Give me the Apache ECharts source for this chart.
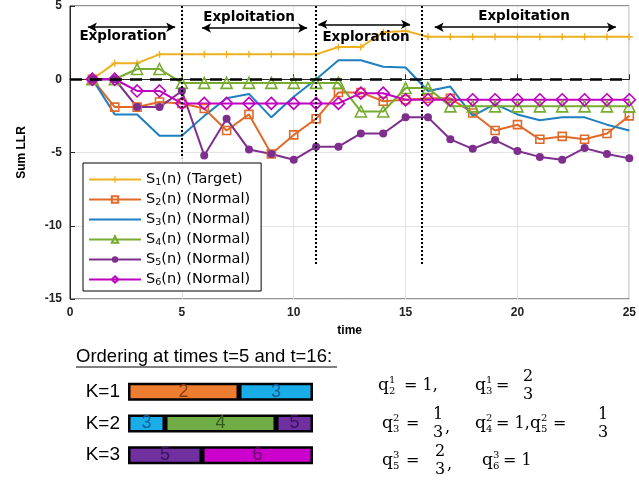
<!DOCTYPE html>
<html>
<head>
<meta charset="utf-8">
<script src="https://cdn.jsdelivr.net/npm/echarts@6/dist/echarts.min.js"></script>
<style>
  html, body { margin: 0; padding: 0; background: #fff; }
  #chart { width: 639px; height: 481px; }
</style>
</head>
<body>
<div id="chart"></div>
<script>
// values
var time = [1,2,3,4,5,6,7,8,9,10,11,12,13,14,15,16,17,18,19,20,21,22,23,24,25]
var s1 = [0,1.1,1.1,1.7,1.7,1.7,1.7,1.7,1.7,1.7,1.7,2.2,2.2,3.2,3.3,2.9,2.9,2.9,2.9,2.9,2.9,2.9,2.9,2.9,2.9]
var s2 = [0,-1.9,-1.9,-1.55,-1.65,-2.0,-3.5,-2.4,-5.1,-3.8,-2.7,-0.9,-0.9,-1.5,-1.4,-1.3,-1.3,-2.3,-3.5,-3.1,-4.1,-3.9,-4.1,-3.7,-2.5]
var s3 = [0,-2.4,-2.4,-3.85,-3.85,-2.5,-1.3,-1.0,-2.6,-1.2,0,1.3,1.3,0.85,0.8,-0.8,-0.5,-2.5,-1.7,-2.4,-2.8,-2.6,-2.6,-3.1,-3.5]
var s4 = [0,0,0.7,0.7,-0.25,-0.25,-0.25,-0.25,-0.25,-0.25,-0.25,-0.25,-2.2,-2.2,-0.6,-0.6,-1.85,-1.85,-1.85,-1.85,-1.85,-1.85,-1.85,-1.85,-1.85]
var s5 = [0,0,-1.9,-1.9,-0.8,-5.2,-2.7,-4.8,-5.1,-5.5,-4.6,-4.6,-3.7,-3.7,-2.6,-2.6,-4.1,-4.75,-4.15,-4.9,-5.3,-5.5,-4.7,-5.1,-5.4]
var s6 = [0,0,-0.8,-0.8,-1.65,-1.65,-1.65,-1.65,-1.65,-1.65,-1.65,-1.65,-0.95,-0.95,-1.4,-1.4,-1.4,-1.4,-1.4,-1.4,-1.4,-1.4,-1.4,-1.4,-1.4]
var names = ['S1(n) (Target)','S2(n) (Normal)','S3(n) (Normal)','S4(n) (Normal)','S5(n) (Normal)','S6(n) (Normal)']
var xTicks = [0,5,10,15,20,25]
var yTicks = [-15,-10,-5,0,5]

// phase boundaries (time) and the ordering weights q
var phaseLines = [5, 11, 15.7]
var kRows = ['K=1','K=2','K=3']
var q2 = [1,'-','-']
var q3 = [2/3,1/3,'-']
var q4 = ['-',1,'-']
var q5 = ['-',1/3,2/3]
var q6 = ['-','-',1]

function pairs(v){ return time.map(function(t,i){ return [t, v[i]] }) }

var chart = echarts.init(document.getElementById('chart'))
var plus = 'path://M-1,-5H1V-1H5V1H1V5H-1V1H-5V-1H-1Z'

function lineSeries(name, data, color, symbol, size, hollow){
  return {
    name: name, type: 'line', data: pairs(data),
    symbol: symbol, symbolSize: size, showSymbol: symbol !== 'none',
    lineStyle: { color: color, width: 2 },
    itemStyle: hollow ? { color: 'rgba(255,255,255,0)', borderColor: color, borderWidth: 1.6 } : { color: color },
    z: 3, animation: false
  }
}

function barSeries(name, data, color, textColor){
  return {
    name: name, type: 'bar', stack: 'k', data: data,
    xAxisIndex: 1, yAxisIndex: 1, barWidth: 18,
    itemStyle: { color: color, borderColor: '#000', borderWidth: 2.5 },
    label: { show: true, position: 'inside', formatter: name, fontSize: 18, fontFamily: 'Arial', color: textColor },
    animation: false
  }
}

var font = 'Arial'
var serif = '"DejaVu Serif"'
var g = []
function txt(x, y, s, size, opt){
  opt = opt || {}
  g.push({ type: 'text', x: x, y: y, silent: true, z: 20,
    style: { text: s, font: (opt.bold ? 'bold ' : '') + size + 'px ' + (opt.family || font), fill: '#000',
      textAlign: opt.align || 'left', textVerticalAlign: 'middle', verticalAlign: 'middle' } })
}
function qTerm(x, y, sup, sub){
  txt(x, y, 'q', 17, { family: serif })
  txt(x + 11, y - 6, sup, 10, { family: serif })
  txt(x + 11, y + 5, sub, 10, { family: serif })
}
function frac(x, y, num, den){
  txt(x, y - 9, num, 16, { family: serif, align: 'center' })
  txt(x, y + 9, den, 16, { family: serif, align: 'center' })
}

// phase labels
var phaseFont = { bold: true, align: 'center', family: '"DejaVu Sans"' }
txt(123, 36, 'Exploration', 13.5, phaseFont)
txt(249, 17, 'Exploitation', 13.5, phaseFont)
txt(366, 37, 'Exploration', 13.5, phaseFont)
txt(524, 16, 'Exploitation', 13.5, phaseFont)

// ordering text
txt(76, 357, 'Ordering at times t=5 and t=16:', 18.5)
g.push({ type: 'line', silent: true, shape: { x1: 76, y1: 367, x2: 337, y2: 367 }, style: { stroke: '#000', lineWidth: 1 } })

qTerm(378, 386, '1', '2'); txt(404, 386, '= 1,', 16, { family: serif })
qTerm(475, 386, '1', '3'); txt(496, 386, '=', 16, { family: serif }); frac(528, 386, '2', '3')
qTerm(382, 424, '2', '3'); txt(406, 424, '=', 16, { family: serif }); frac(438, 424, '1', '3'); txt(445, 428, ',', 16, { family: serif })
qTerm(475, 424, '2', '4'); txt(496, 424, '= 1,', 16, { family: serif })
qTerm(530, 424, '2', '5'); txt(553, 424, '=', 16, { family: serif }); frac(603, 424, '1', '3')
qTerm(382, 461, '3', '5'); txt(406, 461, '=', 16, { family: serif }); frac(440, 461, '2', '3'); txt(447, 465, ',', 16, { family: serif })
qTerm(482, 461, '3', '6'); txt(503, 461, '= 1', 16, { family: serif })

var vLines = phaseLines.map(function(t, i){
  return [{ coord: [t, 5] }, { coord: [t, i === 0 ? -5.4 : -12.7] }]
})
var arrows = [
  [{ coord: [0.8, 3.55] }, { coord: [4.7, 3.55] }],
  [{ coord: [5.9, 3.5] }, { coord: [10.6, 3.5] }],
  [{ coord: [11.1, 3.75] }, { coord: [15.2, 3.75] }],
  [{ coord: [16.3, 3.55] }, { coord: [24.4, 3.55] }]
]

var line1 = lineSeries(names[0], s1, '#EDB120', plus, 7, false)
line1.markLine = {
  silent: true, symbol: 'none', label: { show: false }, animation: false,
  lineStyle: { color: '#000', width: 2, type: [2, 2] },
  data: vLines
}
var line2 = lineSeries(names[1], s2, '#E06a2a', 'rect', 8, true)
line2.markLine = {
  silent: true, symbol: ['arrow', 'arrow'], symbolSize: [7, 9], label: { show: false }, animation: false,
  lineStyle: { color: '#000', width: 1.5, type: 'solid' },
  data: arrows
}
var line3 = lineSeries(names[2], s3, '#1f7fbf', 'none', 0, false)
line3.markLine = {
  silent: true, symbol: 'none', label: { show: false }, animation: false,
  lineStyle: { color: '#000', width: 2.5, type: [12, 8] },
  data: [{ yAxis: 0 }]
}

var legendData = names.map(function(n, i){
  return i === 2 ? { name: n, icon: 'path://M0,0H52V2H0Z' } : { name: n }
})

var option = {
  backgroundColor: '#fff',
  animation: false,
  grid: [
    { left: 70, right: 5, top: 5, bottom: 182, show: true, borderColor: '#262626', borderWidth: 1 },
    { left: 128, width: 185, top: 376, height: 95 }
  ],
  legend: {
    data: legendData, orient: 'vertical', left: 83, top: 163,
    backgroundColor: '#fff', borderColor: '#000', borderWidth: 1,
    padding: [9, 11, 3, 5], itemGap: 4, itemWidth: 52, itemHeight: 8,
    formatter: function(n){ return '{t|S}{s|' + n[1] + '}{t|' + n.slice(2) + '}' },
    textStyle: {
      rich: {
        t: { fontSize: 14.5, fontFamily: '"DejaVu Sans"', color: '#000' },
        s: { fontSize: 9.5, fontFamily: '"DejaVu Sans"', color: '#000', padding: [7, 0, 0, 0] }
      }
    }
  },
  xAxis: [
    { type: 'value', min: 0, max: 25, interval: 5, gridIndex: 0,
      name: 'time', nameLocation: 'middle', nameGap: 26,
      nameTextStyle: { fontSize: 12, fontWeight: 'bold', fontFamily: font, color: '#000' },
      axisLine: { lineStyle: { color: '#262626' } },
      axisTick: { inside: true, length: 5, lineStyle: { color: '#262626' } },
      axisLabel: { fontSize: 12, fontWeight: 'bold', fontFamily: font, color: '#222', margin: 8,
        formatter: function(v){ return xTicks.indexOf(v) >= 0 ? String(v) : '' } },
      splitLine: { lineStyle: { color: '#e3e3e3' } } },
    { type: 'value', min: 0, max: 5/3, gridIndex: 1, show: false }
  ],
  yAxis: [
    { type: 'value', min: -15, max: 5, interval: 5, gridIndex: 0,
      name: 'Sum LLR', nameLocation: 'middle', nameGap: 42, nameRotate: 90,
      nameTextStyle: { fontSize: 12, fontWeight: 'bold', fontFamily: font, color: '#000' },
      axisLine: { show: true, lineStyle: { color: '#262626' } },
      axisTick: { show: true, inside: true, length: 5, lineStyle: { color: '#262626' } },
      axisLabel: { fontSize: 12, fontWeight: 'bold', fontFamily: font, color: '#222', margin: 8,
        formatter: function(v){ return yTicks.indexOf(v) >= 0 ? String(v) : '' } },
      splitLine: { lineStyle: { color: '#e3e3e3' } } },
    { type: 'category', data: kRows, inverse: true, gridIndex: 1,
      axisLine: { show: false }, axisTick: { show: false },
      axisLabel: { fontSize: 19, fontFamily: font, color: '#000', margin: 8 } }
  ],
  series: [
    line1, line2, line3,
    lineSeries(names[3], s4, '#77AC30', 'triangle', 11, true),
    lineSeries(names[4], s5, '#7E2F8E', 'circle', 8, false),
    lineSeries(names[5], s6, '#C000C0', 'diamond', 12, true),
    barSeries('2', q2, '#ED7D31', '#8a3f10'),
    barSeries('3', q3, '#1AAEE8', '#12609a'),
    barSeries('4', q4, '#70AD47', '#2f5a18'),
    barSeries('5', q5, '#7030A0', '#3a1060'),
    barSeries('6', q6, '#CC00CC', '#6a006a')
  ],
  graphic: g
}
chart.setOption(option)
</script>
</body>
</html>
